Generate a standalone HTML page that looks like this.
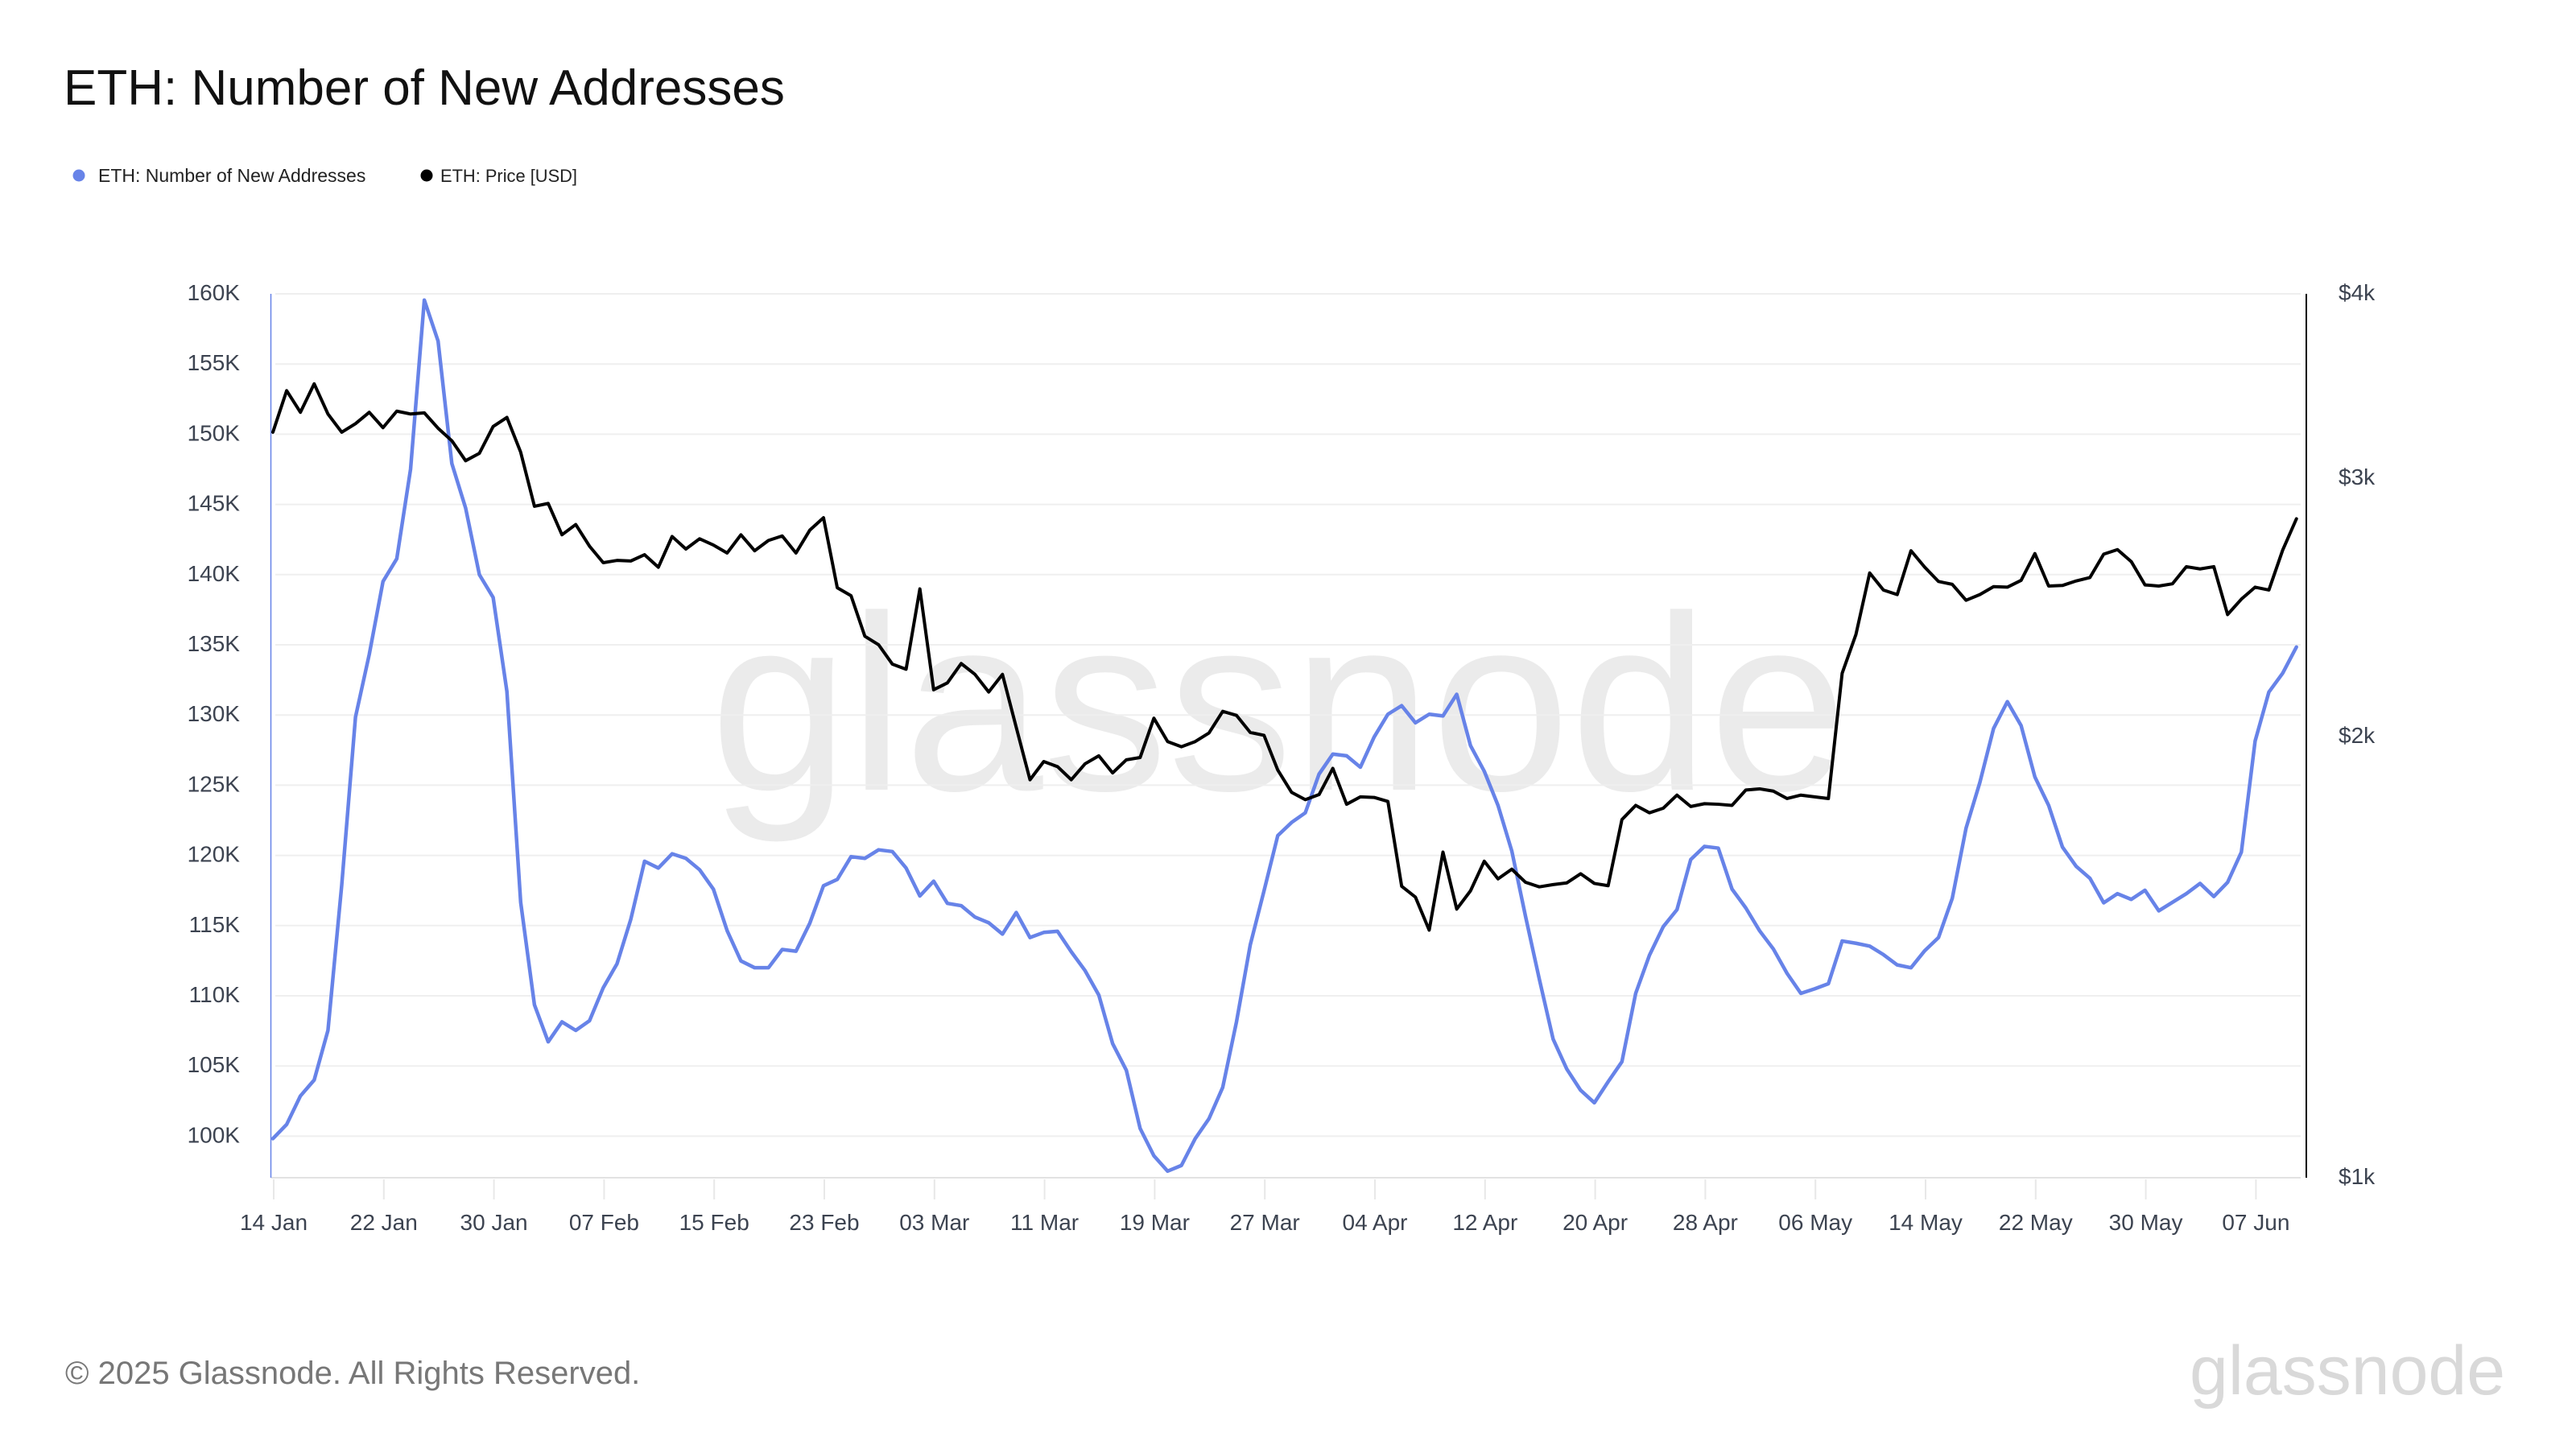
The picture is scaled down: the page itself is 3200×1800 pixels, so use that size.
<!DOCTYPE html>
<html>
<head>
<meta charset="utf-8">
<style>
html,body{margin:0;padding:0;background:#fff;}
svg{display:block;}
text{font-family:"Liberation Sans",sans-serif;}
</style>
</head>
<body>
<svg width="3200" height="1800" viewBox="0 0 3200 1800" xmlns="http://www.w3.org/2000/svg">
<rect x="0" y="0" width="3200" height="1800" fill="#ffffff"/>

<!-- watermark -->
<text x="882" y="981" font-size="310" fill="#ebebeb">glassnode</text>

<!-- title -->
<text x="79" y="130" font-size="62" fill="#111111">ETH: Number of New Addresses</text>

<!-- legend -->
<circle cx="98" cy="218" r="7.5" fill="#6783e8"/>
<text x="122" y="226" font-size="23" fill="#222222">ETH: Number of New Addresses</text>
<circle cx="530" cy="218" r="7.5" fill="#000000"/>
<text x="547" y="226" font-size="22" fill="#222222" textLength="170" lengthAdjust="spacingAndGlyphs">ETH: Price [USD]</text>

<!-- gridlines -->
<g stroke="#efefef" stroke-width="2">
<line x1="342" y1="365" x2="2858" y2="365"/>
<line x1="342" y1="452.2" x2="2858" y2="452.2"/>
<line x1="342" y1="539.4" x2="2858" y2="539.4"/>
<line x1="342" y1="626.6" x2="2858" y2="626.6"/>
<line x1="342" y1="713.8" x2="2858" y2="713.8"/>
<line x1="342" y1="801" x2="2858" y2="801"/>
<line x1="342" y1="888.2" x2="2858" y2="888.2"/>
<line x1="342" y1="975.4" x2="2858" y2="975.4"/>
<line x1="342" y1="1062.6" x2="2858" y2="1062.6"/>
<line x1="342" y1="1149.8" x2="2858" y2="1149.8"/>
<line x1="342" y1="1237" x2="2858" y2="1237"/>
<line x1="342" y1="1324.2" x2="2858" y2="1324.2"/>
<line x1="342" y1="1411.4" x2="2858" y2="1411.4"/>
</g>

<!-- x axis baseline + ticks -->
<line x1="337" y1="1463" x2="2858" y2="1463" stroke="#e2e2e2" stroke-width="2"/>
<g stroke="#e8e8e8" stroke-width="2">
<line x1="340" y1="1465" x2="340" y2="1490"/>
<line x1="476.8" y1="1465" x2="476.8" y2="1490"/>
<line x1="613.6" y1="1465" x2="613.6" y2="1490"/>
<line x1="750.4" y1="1465" x2="750.4" y2="1490"/>
<line x1="887.2" y1="1465" x2="887.2" y2="1490"/>
<line x1="1024" y1="1465" x2="1024" y2="1490"/>
<line x1="1160.8" y1="1465" x2="1160.8" y2="1490"/>
<line x1="1297.6" y1="1465" x2="1297.6" y2="1490"/>
<line x1="1434.4" y1="1465" x2="1434.4" y2="1490"/>
<line x1="1571.2" y1="1465" x2="1571.2" y2="1490"/>
<line x1="1708" y1="1465" x2="1708" y2="1490"/>
<line x1="1844.8" y1="1465" x2="1844.8" y2="1490"/>
<line x1="1981.6" y1="1465" x2="1981.6" y2="1490"/>
<line x1="2118.4" y1="1465" x2="2118.4" y2="1490"/>
<line x1="2255.2" y1="1465" x2="2255.2" y2="1490"/>
<line x1="2392" y1="1465" x2="2392" y2="1490"/>
<line x1="2528.8" y1="1465" x2="2528.8" y2="1490"/>
<line x1="2665.6" y1="1465" x2="2665.6" y2="1490"/>
<line x1="2802.4" y1="1465" x2="2802.4" y2="1490"/>
</g>

<!-- x labels -->
<g font-size="28" fill="#3c4350" text-anchor="middle">
<text x="340" y="1528">14 Jan</text>
<text x="476.8" y="1528">22 Jan</text>
<text x="613.6" y="1528">30 Jan</text>
<text x="750.4" y="1528">07 Feb</text>
<text x="887.2" y="1528">15 Feb</text>
<text x="1024" y="1528">23 Feb</text>
<text x="1160.8" y="1528">03 Mar</text>
<text x="1297.6" y="1528">11 Mar</text>
<text x="1434.4" y="1528">19 Mar</text>
<text x="1571.2" y="1528">27 Mar</text>
<text x="1708" y="1528">04 Apr</text>
<text x="1844.8" y="1528">12 Apr</text>
<text x="1981.6" y="1528">20 Apr</text>
<text x="2118.4" y="1528">28 Apr</text>
<text x="2255.2" y="1528">06 May</text>
<text x="2392" y="1528">14 May</text>
<text x="2528.8" y="1528">22 May</text>
<text x="2665.6" y="1528">30 May</text>
<text x="2802.4" y="1528">07 Jun</text>
</g>

<!-- left y labels -->
<g font-size="28" fill="#3c4350" text-anchor="end">
<text x="298" y="373">160K</text>
<text x="298" y="460.2">155K</text>
<text x="298" y="547.4">150K</text>
<text x="298" y="634.6">145K</text>
<text x="298" y="721.8">140K</text>
<text x="298" y="809">135K</text>
<text x="298" y="896.2">130K</text>
<text x="298" y="983.4">125K</text>
<text x="298" y="1070.6">120K</text>
<text x="298" y="1157.8">115K</text>
<text x="298" y="1245">110K</text>
<text x="298" y="1332.2">105K</text>
<text x="298" y="1419.4">100K</text>
</g>

<!-- right y labels -->
<g font-size="28" fill="#3c4350">
<text x="2905" y="373">$4k</text>
<text x="2905" y="602">$3k</text>
<text x="2905" y="923">$2k</text>
<text x="2905" y="1471">$1k</text>
</g>

<!-- axes -->
<line x1="336.5" y1="365" x2="336.5" y2="1463" stroke="#6783e8" stroke-width="1.5"/>
<line x1="2865" y1="365" x2="2865" y2="1463" stroke="#000000" stroke-width="2"/>

<!-- series -->
<g transform="matrix(17.1 0 0 0.70771 339 360)" fill="none" stroke-linejoin="round" stroke-linecap="round">
<polyline vector-effect="non-scaling-stroke" stroke="#6783e8" stroke-width="4.5" points="0,1490 1,1465 2,1415 3,1387 4,1300 5,1045 6,750 7,640 8,512 9,472 10,315 11,18 12,90 13,305 14,383 15,500 16,540 17,705 18,1075 19,1255 20,1320 21,1285 22,1300 23,1283 24,1225 25,1183 26,1105 27,1003 28,1015 29,990 30,998 31,1018 32,1052 33,1125 34,1178 35,1190 36,1190 37,1158 38,1161 39,1112 40,1046 41,1035 42,995 43,998 44,983 45,986 46,1015 47,1064 48,1038 49,1077 50,1081 51,1101 52,1111 53,1131 54,1093 55,1137 56,1128 57,1126 58,1162 59,1195 60,1238 61,1323 62,1370 63,1472 64,1520 65,1547 66,1537 67,1490 68,1455 69,1400 70,1285 71,1150 72,1055 73,958 74,935 75,918 76,850 77,815 78,818 79,838 80,785 81,745 82,730 83,760 84,745 85,748 86,710 87,800 88,845 89,905 90,985 91,1100 92,1210 93,1315 94,1368 95,1405 96,1427 97,1390 98,1355 99,1235 100,1168 101,1118 102,1088 103,1000 104,977 105,980 106,1052 107,1085 108,1125 109,1157 110,1200 111,1235 112,1227 113,1218 114,1143 115,1147 116,1152 117,1167 118,1185 119,1190 120,1160 121,1137 122,1068 123,945 124,865 125,770 126,723 127,765 128,855 129,905 130,978 131,1012 132,1033 133,1076 134,1060 135,1070 136,1054 137,1090 138,1075 139,1060 140,1042 141,1065 142,1040 143,987 144,792 145,706 146,673 147,627"/>
<polyline vector-effect="non-scaling-stroke" stroke="#000000" stroke-width="4" points="0,250 1,177 2,215 3,165 4,218 5,250 6,235 7,215 8,242 9,213 10,218 11,216 12,243 13,265 14,300 15,287 16,240 17,224 18,285 19,380 20,375 21,430 22,412 23,450 24,479 25,475 26,476 27,465 28,487 29,433 30,455 31,437 32,448 33,462 34,430 35,458 36,440 37,432 38,462 39,422 40,400 41,523 42,537 43,608 44,623 45,657 46,666 47,525 48,702 49,690 50,656 51,675 52,706 53,675 54,768 55,860 56,828 57,837 58,860 59,832 60,818 61,848 62,825 63,821 64,752 65,793 66,802 67,793 68,778 69,740 70,747 71,777 72,782 73,843 74,882 75,895 76,886 77,840 78,903 79,890 80,891 81,898 82,1047 83,1066 84,1124 85,987 86,1087 87,1055 88,1003 89,1034 90,1017 91,1040 92,1048 93,1044 94,1041 95,1025 96,1042 97,1046 98,930 99,905 100,918 101,910 102,887 103,907 104,902 105,903 106,905 107,878 108,876 109,880 110,893 111,887 112,890 113,893 114,673 115,605 116,497 117,527 118,535 119,458 120,487 121,512 122,517 123,545 124,535 125,521 126,522 127,510 128,463 129,520 130,519 131,511 132,505 133,464 134,456 135,477 136,518 137,520 138,516 139,486 140,490 141,486 142,570 143,543 144,522 145,527 146,457 147,402"/>
</g>

<!-- footer -->
<text x="81" y="1719" font-size="40" fill="#777777">© 2025 Glassnode. All Rights Reserved.</text>
<text x="2720" y="1732" font-size="86" fill="#d9d9d9">glassnode</text>
</svg>
</body>
</html>
